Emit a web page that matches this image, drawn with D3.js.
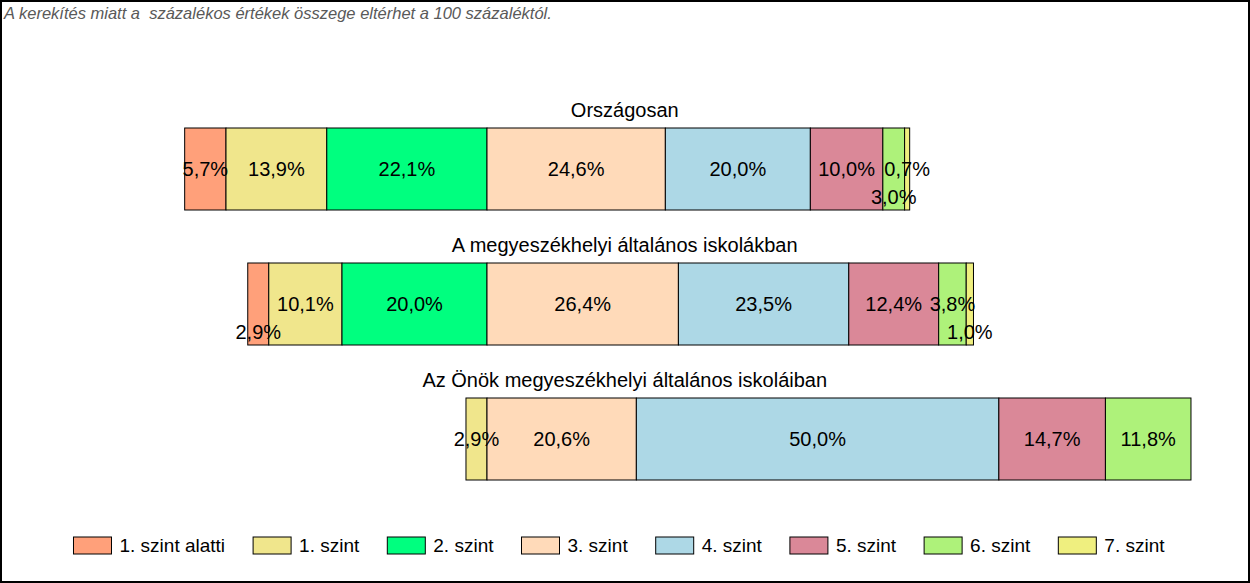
<!DOCTYPE html>
<html>
<head>
  <meta charset="utf-8">
  <script src="https://d3js.org/d3.v7.min.js"></script>
  <style>
    body { margin: 0; background: #fff; }
    svg { display: block; font-family: "Liberation Sans", Arial, sans-serif; }
    .note { font-size: 16.5px; font-style: italic; fill: #595959; }
    .title { font-size: 20px; text-anchor: middle; fill: #000; }
    .label { font-size: 20px; text-anchor: middle; fill: #000; }
    .legend text { font-size: 19px; fill: #000; }
  </style>
</head>
<body>
  <script>

    // categories and values
    var levels = ["1. szint alatti", "1. szint", "2. szint", "3. szint", "4. szint", "5. szint", "6. szint", "7. szint"];
    var groups = ["Országosan", "A megyeszékhelyi általános iskolákban", "Az Önök megyeszékhelyi általános iskoláiban"];
    var orszagosan = [5.7, 13.9, 22.1, 24.6, 20.0, 10.0, 3.0, 0.7];
    var megyeszekhely = [2.9, 10.1, 20.0, 26.4, 23.5, 12.4, 3.8, 1.0];
    var onok = [0, 2.9, 0, 20.6, 50.0, 14.7, 11.8, 0];
    var colors = ["#FFA07A", "#F0E68C", "#00FF7F", "#FFDAB9", "#ADD8E6", "#DA8898", "#AEF27A", "#EFEF7F"];
    var note = "A kerekítés miatt a  százalékos értékek összege eltérhet a 100 százaléktól.";

    var series = [orszagosan, megyeszekhely, onok];
    var width = 1250, height = 583;

    // the bars are split between "2. szint" and "3. szint"
    var x = d3.scaleLinear().domain([-62, 100]).range([37.5, 1212]);
    var y = d3.scaleBand().domain(groups).range([128, 480]).paddingInner(53 / 135).paddingOuter(0);
    var color = d3.scaleOrdinal().domain(levels).range(colors);
    var fmt = function(v) { return d3.format(".1f")(v).replace(".", ",") + "%"; };

    var svg = d3.select("body").append("svg")
        .attr("width", width)
        .attr("height", height);

    svg.append("rect")
        .attr("x", 1).attr("y", 1)
        .attr("width", width - 2).attr("height", height - 2)
        .attr("fill", "#fff")
        .attr("stroke", "#000")
        .attr("stroke-width", 2);

    svg.append("text")
        .attr("class", "note")
        .attr("x", 4)
        .attr("y", 19)
        .attr("xml:space", "preserve")
        .text(note);

    // build segments: left of zero for levels 0-2, right for 3-7
    var rows = groups.map(function(g, gi) {
      var vals = series[gi];
      var left = -d3.sum(vals.slice(0, 3));
      var pos = left;
      var segs = vals.map(function(v, i) {
        var s = {group: g, level: levels[i], value: v, x0: pos, x1: pos + v};
        pos += v;
        return s;
      });
      return {group: g, segs: segs.filter(function(s) { return s.value > 0; })};
    });

    var gRows = svg.selectAll(".row")
        .data(rows)
      .enter().append("g")
        .attr("class", "row");

    gRows.append("text")
        .attr("class", "title")
        .attr("x", (x.range()[0] + x.range()[1]) / 2)
        .attr("y", function(d) { return y(d.group) - 11; })
        .text(function(d) { return d.group; });

    gRows.selectAll("rect")
        .data(function(d) { return d.segs; })
      .enter().append("rect")
        .attr("x", function(d) { return x(d.x0); })
        .attr("y", function(d) { return y(d.group); })
        .attr("width", function(d) { return x(d.x1) - x(d.x0); })
        .attr("height", y.bandwidth())
        .attr("fill", function(d) { return color(d.level); })
        .attr("stroke", "#000")
        .attr("stroke-width", 1);

    // labels; narrow ones that would collide are pushed below the middle line
    gRows.each(function(row) {
      var g = d3.select(this);
      var mid = y(row.group) + y.bandwidth() / 2 + 7;
      var labels = row.segs.map(function(s) {
        var t = g.append("text")
            .attr("class", "label")
            .attr("x", x((s.x0 + s.x1) / 2))
            .attr("y", mid)
            .text(fmt(s.value));
        var w = t.node().getComputedTextLength();
        var cx = x((s.x0 + s.x1) / 2);
        return {node: t, l: cx - w / 2, r: cx + w / 2, fits: w <= x(s.x1) - x(s.x0)};
      });
      var pad = 4, lastMid = null;
      labels.forEach(function(lb, i) {
        var low = false;
        if (lastMid && lb.l < lastMid.r + pad) low = true;
        var next = labels[i + 1];
        if (!low && !lb.fits && next && next.fits && lb.r + pad > next.l) low = true;
        if (low) lb.node.attr("y", mid + 28);
        else lastMid = lb;
      });
    });

    // legend
    var legend = svg.append("g").attr("class", "legend");
    var lx = 0;
    levels.forEach(function(lv) {
      var item = legend.append("g").attr("transform", "translate(" + lx + ",0)");
      item.append("rect")
          .attr("x", 0).attr("y", 537)
          .attr("width", 38).attr("height", 17)
          .attr("fill", color(lv))
          .attr("stroke", "#000");
      var t = item.append("text")
          .attr("x", 46).attr("y", 552)
          .text(lv);
      lx += 46 + t.node().getComputedTextLength() + 28;
    });
    var lw = lx - 28;
    legend.attr("transform", "translate(" + (619 - lw / 2) + ",0)");

  </script>
</body>
</html>
